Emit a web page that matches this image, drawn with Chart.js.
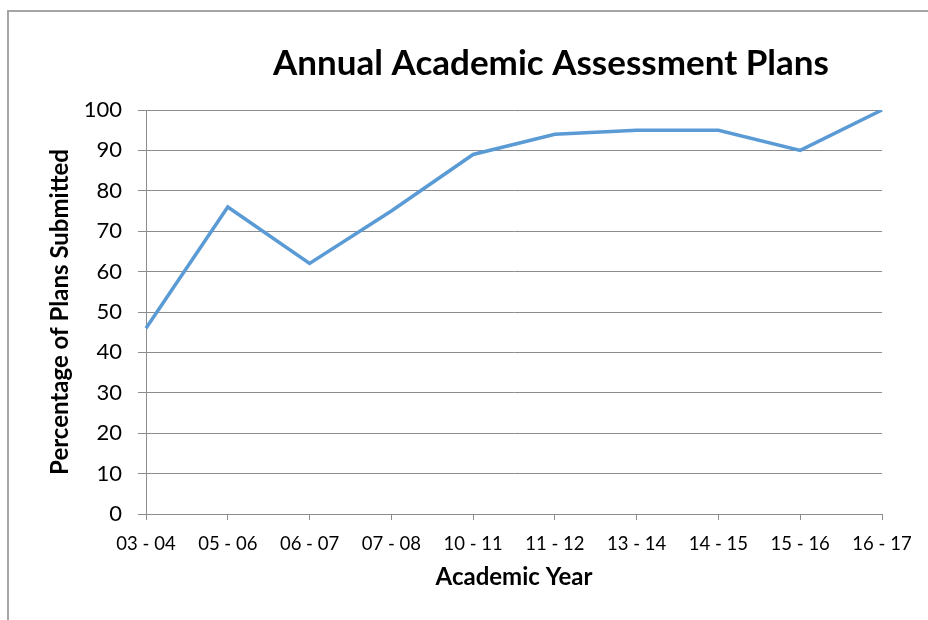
<!DOCTYPE html>
<html>
<head>
<meta charset="utf-8">
<script src="https://cdn.jsdelivr.net/npm/chart.js@4"></script>
<style>
  html, body { margin: 0; padding: 0; background: #ffffff; }
  #wrap { width: 928px; height: 620px; position: relative; }
</style>
</head>
<body>
<div id="wrap"><canvas id="chart" width="928" height="620"></canvas></div>
<script>
// Academic years and percentage of assessment plans submitted
const years = ['03 - 04', '05 - 06', '06 - 07', '07 - 08', '10 - 11', '11 - 12', '13 - 14', '14 - 15', '15 - 16', '16 - 17'];
const percentSubmitted = [46, 76, 62, 75, 89, 94, 95, 95, 90, 100];

const chartTitle = 'Annual Academic Assessment Plans';
const xTitle = 'Academic Year';
const yTitle = 'Percentage of Plans Submitted';

const FONT = 'Lato, "Open Sans", sans-serif';
const AXIS_GRAY = '#8c8c8c';

// Outer frame and the chart heading
const framePlugin = {
  id: 'frame',
  beforeDraw(chart) {
    const ctx = chart.ctx;
    ctx.save();
    ctx.fillStyle = '#ffffff';
    ctx.fillRect(0, 0, chart.width, chart.height);
    ctx.strokeStyle = '#a6a6a6';
    ctx.lineWidth = 2;
    ctx.beginPath();
    ctx.moveTo(8, chart.height + 2);
    ctx.lineTo(8, 11);
    ctx.lineTo(chart.width + 2, 11);
    ctx.stroke();
    ctx.restore();
  },
  afterDraw(chart) {
    const ctx = chart.ctx;
    ctx.save();
    ctx.fillStyle = '#000000';
    ctx.font = 'bold 35px ' + FONT;
    ctx.textAlign = 'center';
    ctx.textBaseline = 'alphabetic';
    ctx.fillText(chartTitle, 551, 75);
    ctx.restore();
  }
};

new Chart(document.getElementById('chart'), {
  type: 'line',
  data: {
    labels: years,
    datasets: [{
      data: percentSubmitted,
      borderColor: '#5b9bd5',
      borderWidth: 3.5,
      pointRadius: 0,
      pointHoverRadius: 0,
      tension: 0,
      fill: false
    }]
  },
  options: {
    responsive: false,
    animation: false,
    devicePixelRatio: 1,
    layout: { padding: { left: 40, top: 110, right: 46, bottom: 0 } },
    plugins: {
      legend: { display: false },
      title: { display: false },
      tooltip: { enabled: false }
    },
    scales: {
      x: {
        type: 'category',
        offset: false,
        afterFit(scale) { scale.height = 106; },
        grid: {
          drawOnChartArea: false,
          drawTicks: true,
          tickLength: 6,
          color: AXIS_GRAY,
          lineWidth: 1
        },
        border: { display: true, color: AXIS_GRAY, width: 1 },
        ticks: {
          color: '#000000',
          font: { family: FONT, size: 18.5 },
          padding: 13,
          maxRotation: 0,
          autoSkip: false
        },
        title: {
          display: true,
          text: xTitle,
          color: '#000000',
          font: { family: FONT, size: 24, weight: 'bold' },
          padding: { top: 0, bottom: 28 }
        }
      },
      y: {
        min: 0,
        max: 100,
        afterFit(scale) { scale.width = 106; },
        grid: {
          drawOnChartArea: true,
          drawTicks: true,
          tickLength: 8,
          color: AXIS_GRAY,
          lineWidth: 1
        },
        border: { display: true, color: AXIS_GRAY, width: 1 },
        ticks: {
          stepSize: 10,
          color: '#000000',
          font: { family: FONT, size: 22 },
          padding: 16
        },
        title: {
          display: true,
          text: yTitle,
          color: '#000000',
          font: { family: FONT, size: 24, weight: 'bold' },
          padding: { top: 6, bottom: 0 }
        }
      }
    }
  },
  plugins: [framePlugin]
});
</script>
</body>
</html>
